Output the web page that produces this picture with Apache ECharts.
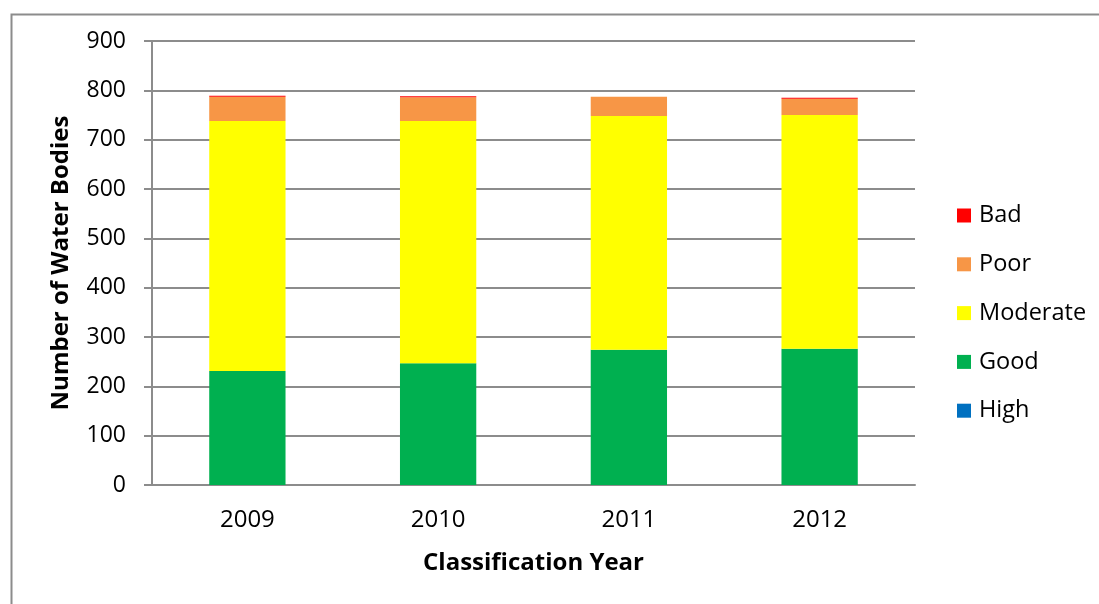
<!DOCTYPE html>
<html>
<head>
<meta charset="utf-8">
<script src="https://cdn.jsdelivr.net/npm/echarts@6/dist/echarts.min.js"></script>
<style>
html,body{margin:0;padding:0;background:#fff;}
#chart{width:1099px;height:604px;}
</style>
</head>
<body>
<div id="chart"></div>
<script>
const years = ['2009', '2010', '2011', '2012'];
const high = [0, 0, 0, 0];
const good = [231, 247, 274, 276];
const moderate = [507, 491, 474, 474];
const poor = [49, 48, 39, 33];
const bad = [2, 2, 0, 2];
const yTicks = [0, 100, 200, 300, 400, 500, 600, 700, 800, 900];

const FONT = 'Open Sans';
const chart = echarts.init(document.getElementById('chart'));
const mk = (name, data, color) => ({
  name, type: 'bar', stack: 'total', data, barWidth: '40%',
  itemStyle: { color }, emphasis: { disabled: true }
});
chart.setOption({
  animation: false,
  textStyle: { fontFamily: FONT },
  graphic: [{
    type: 'rect', left: 9, top: 12,
    shape: { width: 1100, height: 600 },
    style: { fill: 'none', stroke: '#8c8c8c', lineWidth: 2 }
  }],
  grid: { left: 152, right: 184, top: 41, bottom: 119 },
  legend: {
    orient: 'vertical', left: 957, top: 203.5, padding: 0,
    data: ['Bad', 'Poor', 'Moderate', 'Good', 'High'],
    itemWidth: 14, itemHeight: 14, itemGap: 24.8,
    icon: 'rect',
    textStyle: { fontFamily: FONT, fontSize: 23.5, color: '#000', padding: [0, 0, 0, 3] }
  },
  xAxis: {
    type: 'category', data: years,
    name: 'Classification Year', nameLocation: 'middle', nameGap: 66,
    nameTextStyle: { fontFamily: FONT, fontSize: 24, fontWeight: 'bold', color: '#000' },
    axisLine: { lineStyle: { color: '#8c8c8c', width: 2 } },
    axisTick: { length: 8, lineStyle: { color: '#8c8c8c', width: 2 } },
    axisLabel: { fontFamily: FONT, fontSize: 24, color: '#000', margin: 23 }
  },
  yAxis: {
    type: 'value', min: yTicks[0], max: yTicks[yTicks.length - 1], interval: 100,
    name: 'Number of Water Bodies', nameLocation: 'middle', nameGap: 79,
    nameTextStyle: { fontFamily: FONT, fontSize: 24, fontWeight: 'bold', color: '#000' },
    axisLine: { show: true, lineStyle: { color: '#8c8c8c', width: 2 } },
    axisTick: { show: true, length: 8, lineStyle: { color: '#8c8c8c', width: 2 } },
    axisLabel: { fontFamily: FONT, fontSize: 23, color: '#000', margin: 26 },
    splitLine: { lineStyle: { color: '#8c8c8c', width: 2 } }
  },
  series: [
    mk('High', high, '#0070C0'),
    mk('Good', good, '#00B050'),
    mk('Moderate', moderate, '#FFFF00'),
    mk('Poor', poor, '#F79646'),
    mk('Bad', bad, '#FF0000')
  ]
});
</script>
</body>
</html>
